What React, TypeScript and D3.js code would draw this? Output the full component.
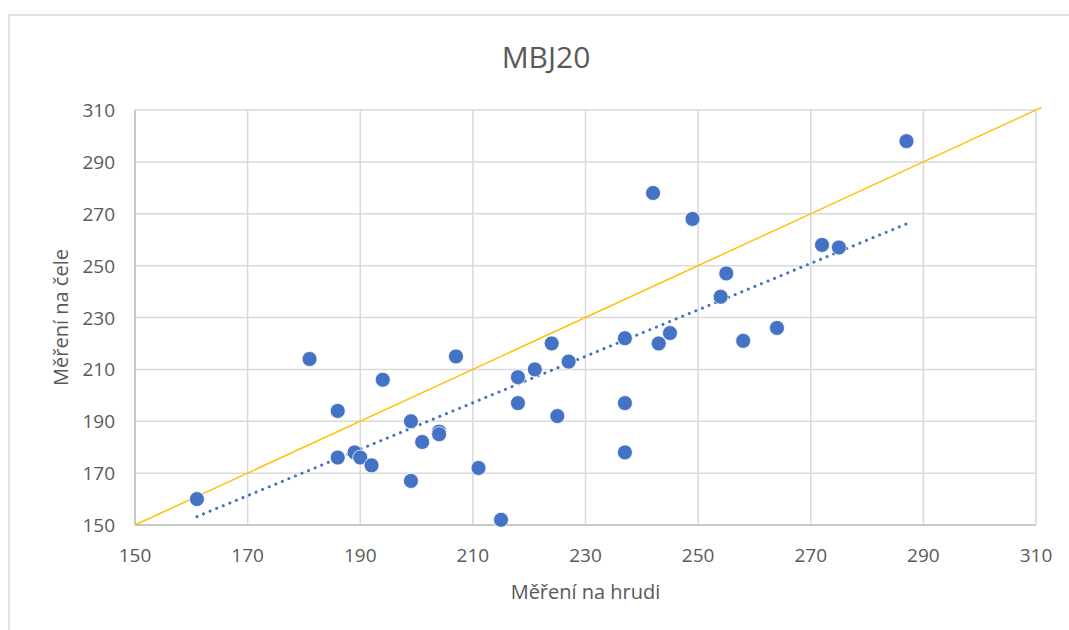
import { useEffect, useRef } from 'react';
import * as d3 from 'd3';

// Měření na hrudi (x) vs Měření na čele (y)
const chestValues = [
  161, 181, 186, 194, 186, 189, 190, 192, 199, 199, 201, 204, 204, 207, 211, 215, 218, 218,
  221, 224, 225, 227, 237, 237, 237, 243, 245, 242, 249, 255, 254, 258, 264, 272, 275, 287,
];
const foreheadValues = [
  160, 214, 194, 206, 176, 178, 176, 173, 190, 167, 182, 186, 185, 215, 172, 152, 207, 197,
  210, 220, 192, 213, 222, 197, 178, 220, 224, 278, 268, 247, 238, 221, 226, 258, 257, 298,
];
const tickValues = [150, 170, 190, 210, 230, 250, 270, 290, 310];
const identityLine = [150, 311];

const title = 'MBJ20';
const xTitle = 'Měření na hrudi';
const yTitle = 'Měření na čele';

const WIDTH = 1069;
const HEIGHT = 630;
const FONT = '"Open Sans", "Liberation Sans", sans-serif';
const TEXT = '#595959';
const GRID = '#d9d9d9';
const BLUE = '#4472C4';
const GOLD = '#FFC000';

export default function App() {
  const svgRef = useRef<SVGSVGElement>(null);

  useEffect(() => {
    if (!svgRef.current) return;
    const svg = d3.select(svgRef.current);
    svg.selectAll('*').remove();

    const plot = { left: 135, right: 1036, top: 110, bottom: 525 };

    const x = d3.scaleLinear().domain([150, 310]).range([plot.left, plot.right]);
    const y = d3.scaleLinear().domain([150, 310]).range([plot.bottom, plot.top]);

    svg.append('rect')
      .attr('width', WIDTH)
      .attr('height', HEIGHT)
      .attr('fill', '#fff');

    // chart frame (runs off the right and bottom of the picture)
    svg.append('rect')
      .attr('x', 9)
      .attr('y', 15)
      .attr('width', WIDTH + 20)
      .attr('height', HEIGHT + 20)
      .attr('fill', 'none')
      .attr('stroke', GRID)
      .attr('stroke-width', 1.5);

    // grid
    const grid = svg.append('g');
    tickValues.forEach(t => {
      grid.append('line')
        .attr('x1', x(t)).attr('x2', x(t))
        .attr('y1', plot.top).attr('y2', plot.bottom)
        .attr('stroke', GRID).attr('stroke-width', 1.5);
      grid.append('line')
        .attr('x1', plot.left).attr('x2', plot.right)
        .attr('y1', y(t)).attr('y2', y(t))
        .attr('stroke', GRID).attr('stroke-width', 1.5);
    });

    // axis lines
    svg.append('line')
      .attr('x1', plot.left).attr('x2', plot.right)
      .attr('y1', plot.bottom).attr('y2', plot.bottom)
      .attr('stroke', '#bfbfbf').attr('stroke-width', 1.5);
    svg.append('line')
      .attr('x1', plot.left).attr('x2', plot.left)
      .attr('y1', plot.top).attr('y2', plot.bottom)
      .attr('stroke', '#bfbfbf').attr('stroke-width', 1.5);

    // tick labels
    svg.append('g')
      .selectAll('text')
      .data(tickValues)
      .join('text')
      .attr('x', d => x(d))
      .attr('y', plot.bottom + 37)
      .attr('text-anchor', 'middle')
      .attr('fill', TEXT)
      .attr('font-family', FONT)
      .attr('font-size', '19px')
      .text(d => d);

    svg.append('g')
      .selectAll('text')
      .data(tickValues)
      .join('text')
      .attr('x', plot.left - 20)
      .attr('y', d => y(d) + 7)
      .attr('text-anchor', 'end')
      .attr('fill', TEXT)
      .attr('font-family', FONT)
      .attr('font-size', '19px')
      .text(d => d);

    // y = x reference
    svg.append('line')
      .attr('x1', x(identityLine[0])).attr('y1', y(identityLine[0]))
      .attr('x2', x(identityLine[1])).attr('y2', y(identityLine[1]))
      .attr('stroke', GOLD).attr('stroke-width', 1.5);

    // linear trend (least squares)
    const mx = d3.mean(chestValues)!;
    const my = d3.mean(foreheadValues)!;
    let sxy = 0;
    let sxx = 0;
    chestValues.forEach((v, i) => {
      sxy += (v - mx) * (foreheadValues[i] - my);
      sxx += (v - mx) * (v - mx);
    });
    const slope = sxy / sxx;
    const intercept = my - slope * mx;
    const [xMin, xMax] = d3.extent(chestValues) as [number, number];

    svg.append('line')
      .attr('x1', x(xMin)).attr('y1', y(slope * xMin + intercept))
      .attr('x2', x(xMax)).attr('y2', y(slope * xMax + intercept))
      .attr('stroke', BLUE)
      .attr('stroke-width', 3)
      .attr('stroke-linecap', 'round')
      .attr('stroke-dasharray', '0.1,7');

    // points
    svg.append('g')
      .selectAll('circle')
      .data(chestValues.map((v, i) => [v, foreheadValues[i]]))
      .join('circle')
      .attr('cx', d => x(d[0]))
      .attr('cy', d => y(d[1]))
      .attr('r', 7.5)
      .attr('fill', BLUE)
      .attr('stroke', '#fff')
      .attr('stroke-width', 0.75);

    // titles
    svg.append('text')
      .attr('x', 546)
      .attr('y', 68)
      .attr('text-anchor', 'middle')
      .attr('fill', TEXT)
      .attr('font-family', FONT)
      .attr('font-size', '30px')
      .text(title);

    svg.append('text')
      .attr('x', (plot.left + plot.right) / 2)
      .attr('y', 599)
      .attr('text-anchor', 'middle')
      .attr('fill', TEXT)
      .attr('font-family', FONT)
      .attr('font-size', '20px')
      .text(xTitle);

    svg.append('text')
      .attr('transform', `translate(68,${(plot.top + plot.bottom) / 2}) rotate(-90)`)
      .attr('text-anchor', 'middle')
      .attr('fill', TEXT)
      .attr('font-family', FONT)
      .attr('font-size', '20px')
      .text(yTitle);
  }, []);

  return (
    <div style={{ position: 'absolute', left: 0, top: 0 }}>
      <svg ref={svgRef} width={WIDTH} height={HEIGHT} />
    </div>
  );
}
